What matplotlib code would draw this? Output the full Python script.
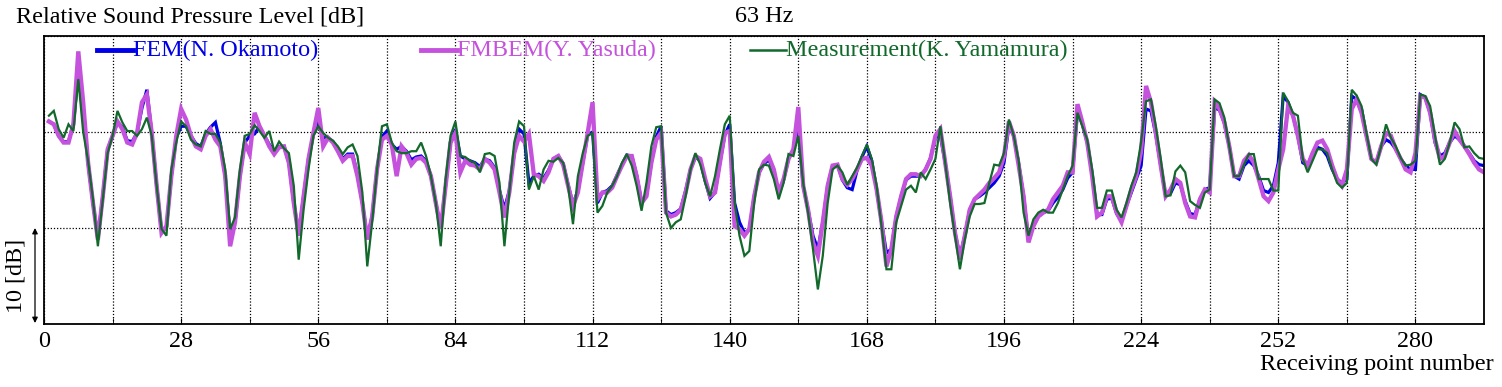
import numpy as np
import matplotlib
matplotlib.use("Agg")
import matplotlib.pyplot as plt
from matplotlib.lines import Line2D

plt.rcParams['font.family'] = ['Liberation Serif', 'DejaVu Serif']

# receiving points 1..294 (21 rows of 14 points)
points = np.arange(1, 295)

fem = [
    1.1, 0.8, -0.4, -1.0, -1.0, 0.8, 6.2, 2.5, -3.2, -7.4, -11.0, -6.7, -1.8, -0.4,
    1.0, 0.5, -0.9, -1.0, -0.1, 2.5, 4.4, -0.1, -5.6, -10.3, -9.9, -4.6, -0.6, 0.6,
    0.6, -0.4, -1.2, -1.5, -0.2, 0.5, 1.0, -1.2, -4.6, -10.8, -9.4, -4.6, -1.1, -0.4,
    -0.2, 0.6, -0.4, -1.3, -2.0, -1.5, -1.5, -3.2, -7.4, -10.6, -6.7, -2.8, -0.3, 1.0,
    -0.6, -0.6, -1.0, -1.8, -2.8, -2.3, -2.3, -4.4, -7.4, -11.0, -8.8, -3.9, -0.5, 0.1,
    -1.3, -1.8, -1.5, -2.0, -2.9, -2.6, -2.5, -3.0, -4.6, -7.4, -10.0, -5.6, -1.1, 0.3,
    -2.5, -2.8, -3.0, -3.2, -3.6, -2.8, -3.0, -3.7, -6.1, -8.0, -6.1, -2.2, 0.3, -0.2,
    -5.3, -4.6, -4.4, -4.8, -4.0, -2.8, -2.5, -3.3, -5.5, -7.5, -6.1, -3.2, -0.3, 0.0,
    -7.4, -6.3, -6.1, -5.6, -4.5, -3.4, -2.4, -2.5, -4.5, -7.3, -6.6, -3.2, -0.5, 0.6,
    -8.2, -8.6, -8.4, -8.0, -6.1, -3.9, -2.6, -3.0, -5.1, -6.9, -6.3, -3.2, -0.3, 0.8,
    -7.4, -9.4, -10.5, -10.2, -6.7, -4.2, -3.3, -2.9, -4.1, -6.5, -5.0, -2.8, -1.8, 0.3,
    -5.6, -8.1, -10.8, -12.2, -9.4, -5.6, -3.5, -3.4, -5.0, -5.8, -6.0, -4.0, -2.6, -1.5,
    -3.0, -6.0, -9.4, -12.6, -12.2, -8.8, -6.7, -5.0, -4.6, -4.6, -4.6, -3.9, -2.7, -0.6,
    -0.4, -3.2, -6.7, -10.5, -12.9, -10.8, -8.1, -7.0, -6.7, -6.3, -5.8, -5.3, -4.6, -3.2,
    0.6, -0.4, -3.3, -6.7, -11.2, -9.8, -8.8, -8.4, -8.2, -7.4, -6.8, -6.0, -4.8, -4.2,
    2.2, 0.8, -1.1, -4.4, -8.6, -8.6, -7.0, -6.9, -8.5, -9.3, -7.7, -6.3, -4.9, -3.5,
    2.4, 2.2, -0.3, -3.5, -6.6, -6.4, -5.3, -5.5, -7.2, -8.5, -8.6, -7.0, -6.0, -5.8,
    2.5, 2.3, 0.9, -1.5, -4.6, -4.9, -3.5, -3.0, -3.5, -4.6, -6.1, -6.3, -5.6, -3.2,
    3.75, 3.1, 1.7, -0.4, -3.2, -3.5, -2.2, -1.6, -1.8, -2.5, -3.9, -4.9, -5.3, -4.9,
    3.75, 3.4, 2.4, -0.4, -2.8, -3.2, -1.5, -0.8, -1.1, -1.8, -2.8, -3.5, -3.9, -3.9,
    3.9, 3.6, 2.0, -1.1, -2.5, -2.2, -1.1, -0.4, -0.8, -1.5, -2.2, -3.0, -3.4, -3.5,
]

fmbem = [
    1.1, 0.8, -0.4, -1.1, -1.1, 0.8, 8.4, 3.1, -3.2, -7.4, -11.2, -6.7, -1.8, -0.4,
    1.1, 0.3, -1.1, -1.3, -0.1, 3.1, 3.9, -0.1, -5.6, -10.5, -9.8, -4.6, -0.4, 2.4,
    1.3, -0.4, -1.5, -1.8, -0.4, 0.3, -0.8, -1.5, -4.6, -11.9, -9.4, -4.6, -1.1, -2.3,
    2.0, 0.6, -0.4, -1.5, -2.3, -1.6, -1.5, -3.2, -7.4, -10.8, -6.7, -2.8, -0.1, 2.5,
    -1.5, -0.6, -1.1, -2.0, -3.0, -2.5, -2.5, -4.6, -7.4, -11.2, -8.8, -3.9, -0.8, -0.4,
    -1.3, -4.6, -1.5, -2.2, -3.4, -2.8, -2.7, -3.2, -4.6, -7.4, -10.1, -5.6, -1.1, -0.1,
    -4.2, -3.0, -3.4, -3.5, -3.9, -2.8, -3.2, -3.9, -6.3, -8.9, -6.3, -2.2, -0.4, -1.0,
    -0.2, -4.4, -4.6, -5.1, -4.2, -2.8, -2.5, -3.4, -5.6, -7.7, -6.3, -3.2, -0.1, 3.1,
    -7.0, -6.3, -6.3, -5.8, -4.6, -3.5, -2.5, -2.5, -4.6, -7.4, -6.7, -3.2, -0.8, -0.1,
    -8.4, -8.8, -8.6, -8.1, -6.3, -3.9, -2.5, -2.8, -4.9, -6.7, -6.3, -3.2, -0.1, 0.1,
    -9.8, -10.1, -10.8, -10.1, -6.7, -4.2, -3.1, -2.6, -3.9, -6.3, -4.9, -2.8, -1.8, 2.6,
    -5.6, -8.1, -11.5, -12.9, -9.4, -5.6, -3.5, -3.4, -4.9, -5.5, -4.9, -3.9, -2.8, -2.7,
    -3.5, -6.0, -9.4, -14.0, -12.2, -8.8, -6.7, -4.9, -4.4, -4.4, -4.6, -3.9, -2.8, -0.4,
    0.3, -3.2, -6.7, -10.5, -13.3, -10.8, -8.1, -7.0, -6.5, -6.0, -5.3, -4.8, -4.2, -2.5,
    1.1, -0.4, -3.5, -6.7, -11.5, -9.8, -8.8, -8.4, -8.1, -7.0, -6.3, -5.6, -4.2, -4.2,
    2.9, 1.0, -1.1, -4.6, -8.8, -8.4, -6.7, -6.7, -8.4, -9.4, -7.7, -6.0, -4.6, -2.0,
    4.8, 3.1, -0.1, -3.5, -6.7, -6.0, -4.9, -5.3, -7.4, -8.8, -8.9, -7.0, -6.0, -6.3,
    3.1, 2.4, 1.0, -1.5, -4.6, -4.6, -3.0, -2.4, -3.2, -4.9, -6.7, -7.2, -6.3, -3.9,
    -1.8, 2.7, 1.7, -0.4, -2.8, -3.5, -2.2, -1.1, -0.9, -1.8, -3.5, -4.9, -5.6, -3.9,
    2.4, 3.4, 2.0, -0.4, -2.8, -3.2, -1.5, -0.1, -0.4, -1.8, -2.8, -3.9, -4.2, -2.2,
    3.75, 3.6, 2.0, -0.8, -2.8, -2.5, -1.1, 0.1, -0.8, -1.5, -2.3, -3.2, -3.9, -4.2,
]

measurement = [
    1.7, 2.2, 0.3, -0.6, 0.8, 0.1, 5.5, 0.0, -3.0, -7.0, -11.9, -7.0, -2.2, -0.4,
    2.2, 1.0, 0.1, 0.1, -0.4, 0.3, 1.5, -0.4, -5.6, -10.1, -10.8, -3.9, -1.1, 1.1,
    0.6, -0.8, -1.3, -1.5, 0.1, -0.2, -0.2, -1.1, -3.9, -10.1, -8.9, -3.9, -0.4, -0.2,
    0.7, 0.1, -0.6, 0.1, -2.0, -1.0, -1.7, -2.2, -5.6, -13.3, -8.1, -3.9, -0.4, 0.6,
    -0.1, -0.6, -0.9, -1.5, -2.3, -1.6, -1.3, -2.5, -6.3, -14.0, -9.4, -3.9, 0.6, 0.8,
    -1.1, -2.0, -2.2, -2.2, -2.0, -2.0, -1.1, -2.5, -4.6, -7.4, -11.9, -4.9, -0.4, 1.1,
    -2.5, -2.6, -3.0, -3.2, -4.2, -2.3, -2.2, -2.5, -5.3, -11.9, -6.3, -1.1, 1.1, 0.6,
    -6.0, -4.6, -6.0, -3.9, -3.0, -3.1, -2.7, -3.2, -5.6, -9.6, -4.6, -2.2, -0.4, -0.1,
    -8.4, -7.7, -6.3, -5.6, -4.6, -3.2, -2.3, -3.5, -5.6, -8.2, -5.3, -1.5, 0.5, 0.6,
    -8.4, -10.0, -9.4, -9.1, -6.7, -3.9, -2.2, -3.4, -5.3, -6.7, -4.6, -1.8, 0.8, 1.7,
    -7.4, -10.8, -12.9, -12.4, -7.4, -3.9, -3.4, -3.5, -4.9, -7.0, -5.3, -2.3, -2.5, -0.4,
    -5.3, -8.4, -12.2, -16.4, -12.9, -7.4, -3.9, -3.5, -4.2, -5.5, -4.6, -3.7, -2.5, -1.3,
    -2.8, -5.6, -9.8, -14.3, -14.3, -9.4, -7.7, -6.0, -5.6, -6.3, -4.2, -4.9, -3.9, -2.8,
    0.6, -3.2, -7.4, -10.8, -14.3, -11.2, -8.8, -7.5, -7.5, -7.4, -5.3, -3.4, -3.5, -2.2,
    1.3, -0.4, -3.0, -8.4, -10.8, -9.1, -8.4, -8.1, -8.4, -8.4, -7.4, -6.0, -4.6, -3.5,
    2.0, 0.6, -0.8, -3.9, -7.9, -7.9, -6.1, -6.1, -8.1, -8.9, -7.4, -5.6, -4.2, -1.0,
    3.2, 3.4, 0.6, -2.8, -6.7, -6.6, -4.1, -3.5, -4.2, -7.2, -7.6, -7.9, -6.3, -6.0,
    3.4, 3.0, 1.5, -1.5, -4.6, -4.6, -3.4, -2.3, -2.3, -4.9, -4.9, -4.9, -6.1, -6.1,
    4.1, 3.2, 2.0, 1.7, -2.8, -4.2, -3.0, -1.8, -1.8, -2.2, -3.9, -5.3, -5.8, -5.3,
    4.4, 3.8, 2.7, -0.1, -2.8, -3.4, -1.5, 0.8, -0.6, -1.5, -2.7, -3.5, -3.4, -3.0,
    3.9, 3.75, 2.7, -0.4, -3.4, -2.8, -1.1, 1.0, 0.3, -1.6, -1.5, -2.2, -2.7, -2.8,
]

labels = ["FEM(N. Okamoto)", "FMBEM(Y. Yasuda)", "Measurement(K. Yamamura)"]
colors = ["#0000e6", "#c552dc", "#11692a"]
widths = [2.3, 3.1, 1.6]
fs = 17.4

fig = plt.figure(figsize=(15.02, 3.87), dpi=100)
ax = fig.add_axes([44 / 1502, 1 - 324 / 387, 1440 / 1502, 288 / 387])

for series, col, lw in zip([fem, fmbem, measurement], colors, widths):
    ax.plot(points, series, color=col, lw=lw, solid_joinstyle='miter')

ax.set_xlim(0, 294)
ax.set_ylim(-20, 10)
ax.set_xticks(np.arange(0, 294, 28))
ax.set_xticks(np.arange(14, 294, 28), minor=True)
ax.set_yticks([-20, -10, 0, 10])
ax.set_yticklabels([])
ax.grid(True, which='both', axis='x', color='black', linestyle=(0, (1, 1.5)), lw=0.9)
ax.grid(True, which='major', axis='y', color='black', linestyle=(0, (1, 1.5)), lw=0.9)
ax.tick_params(axis='x', which='both', direction='in', length=4, labelsize=fs, pad=5)
ax.tick_params(axis='y', length=0)
for sp in ax.spines.values():
    sp.set_linewidth(1.3)

# legend drawn inline along the top of the axes
leg_x = [(97, 133), (421, 457), (750, 786)]
leg_w = [3.5, 3.5, 1.8]
for (x0, x1), lab, col, lw in zip(leg_x, labels, colors, leg_w):
    ax.add_line(Line2D([(x0 - 44) / 1440, (x1 - 44) / 1440], [0.951, 0.951],
                       transform=ax.transAxes, color=col, lw=lw))
    ax.text((x1 - 44) / 1440, 0.951, lab, transform=ax.transAxes, color=col,
            fontsize=fs, ha='left', va='center')

fig.text(16 / 1502, 1 - 17 / 387, "Relative Sound Pressure Level [dB]",
         fontsize=fs, ha='left', va='center')
fig.text(764 / 1502, 1 - 17 / 387, "63 Hz", fontsize=fs, ha='center', va='center')
ax.text((1494 - 44) / 1440, (324 - 370) / 288, "Receiving point number",
        transform=ax.transAxes, fontsize=fs, ha='right', va='baseline')

# 10 dB scale bar
ytr = ax.get_yaxis_transform()
ax.annotate('', xy=(-9 / 1440, -10), xytext=(-9 / 1440, -19.9), xycoords=ytr,
            textcoords=ytr, annotation_clip=False,
            arrowprops=dict(arrowstyle='<|-|>', color='black', lw=0.9,
                            mutation_scale=8, shrinkA=0, shrinkB=0))
ax.text(-28 / 1440, -15, "10 [dB]", transform=ytr, rotation=90, fontsize=fs,
        ha='center', va='center')

fig.savefig("out.png", dpi=100)
